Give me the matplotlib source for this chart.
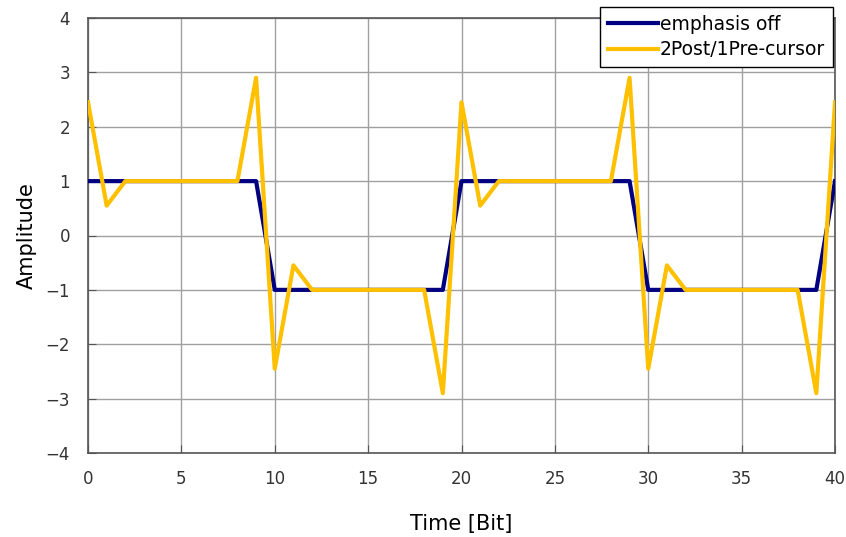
import matplotlib.pyplot as plt

plt.rcParams['font.family'] = ['DejaVu Sans']

bits = list(range(41))
emphasis_off = [1] * 10 + [-1] * 10 + [1] * 10 + [-1] * 10 + [1]
post_pre = ([2.45, 0.55] + [1] * 7 + [2.9] +
            [-2.45, -0.55] + [-1] * 7 + [-2.9] +
            [2.45, 0.55] + [1] * 7 + [2.9] +
            [-2.45, -0.55] + [-1] * 7 + [-2.9] +
            [2.45])

fig = plt.figure(figsize=(8.46, 5.37), dpi=100)
ax = fig.add_axes([88 / 846, 1 - 453 / 537, (835 - 88) / 846, (453 - 18) / 537])

ax.plot(bits, emphasis_off, color='#000080', lw=3, label='emphasis off', zorder=3)
ax.plot(bits, post_pre, color='#FFC000', lw=3, label='2Post/1Pre-cursor', zorder=4)

ax.set_xlim(0, 40)
ax.set_ylim(-4, 4)
ax.set_xticks(range(0, 41, 5))
ax.set_yticks(range(-4, 5))
ax.grid(True, color='#a0a0a0', lw=1)
ax.tick_params(direction='in', length=6, color='#555555', labelsize=12, labelcolor='#333333')
ax.tick_params(axis='x', pad=12)
ax.tick_params(axis='y', pad=13)
for s in ax.spines.values():
    s.set_color('#555555')
    s.set_linewidth(1.2)

ax.set_xlabel('Time [Bit]', fontsize=15, labelpad=19)
ax.set_ylabel('Amplitude', fontsize=15, labelpad=6)

leg = fig.legend(loc='upper left', bbox_to_anchor=(600 / 846, 1 - 7 / 537), borderaxespad=0,
                 fontsize=13.5, fancybox=False, framealpha=1, edgecolor='black',
                 handlelength=2.7, handletextpad=0.1, labelspacing=0.35, borderpad=0.4)
leg.get_frame().set_linewidth(1)

fig.savefig('out.png', dpi=100)
